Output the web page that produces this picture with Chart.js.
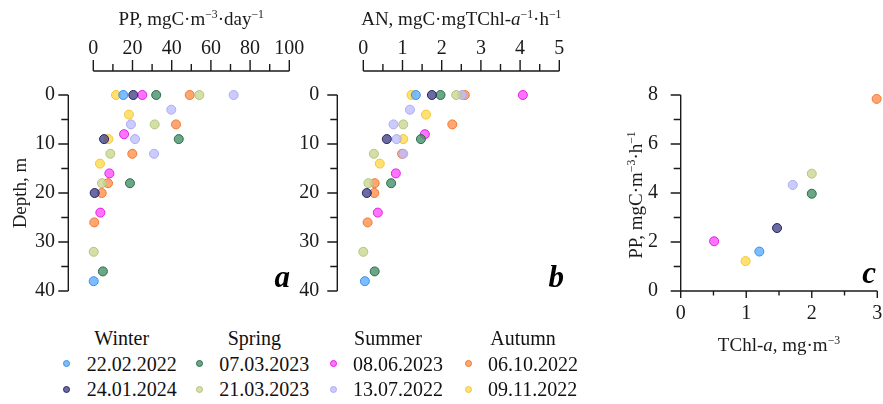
<!DOCTYPE html>
<html>
<head>
<meta charset="utf-8">
<script src="https://cdn.jsdelivr.net/npm/chart.js@4.4.1/dist/chart.umd.min.js"></script>
<style>
  body { margin: 0; background: #fff; }
  #wrap { position: relative; width: 883px; height: 404px; overflow: hidden; font-family: 'Liberation Serif', serif; color: #111; }
  #wrap canvas { position: absolute; top: 0; }
  .leg { position: absolute; font-size: 20px; line-height: 20px; white-space: nowrap; }
  .dot { position: absolute; width: 7px; height: 7px; border-radius: 50%; box-sizing: border-box; border: 1px solid; }
</style>
</head>
<body>
<div id="wrap">
  <canvas id="chartA" style="left:0px" width="310" height="310"></canvas>
  <canvas id="chartB" style="left:295px" width="285" height="310"></canvas>
  <canvas id="chartC" style="left:600px" width="283" height="360"></canvas>
</div>
<script>
// sampling dates, in legend order (two per season)
const seasons = ['Winter', 'Spring', 'Summer', 'Autumn'];
const dates = ['22.02.2022', '24.01.2024', '07.03.2023', '21.03.2023', '08.06.2023', '13.07.2022', '06.10.2022', '09.11.2022'];

// sample depths, m (one row per date)
const depthM = [
  [0, 38],
  [0, 9, 20],
  [0, 9, 18, 36],
  [0, 6, 12, 18, 32],
  [0, 8, 16, 24],
  [0, 3, 6, 9, 12],
  [0, 6, 12, 18, 20, 26],
  [0, 4, 9, 14]
];
// PP, mgC m-3 day-1 at those depths
const ppDay = [
  [15.3, 0.2],
  [20.4, 5.5, 0.7],
  [32.1, 43.6, 18.7, 4.9],
  [54.1, 31.3, 8.7, 4.4, 0.2],
  [25.0, 15.7, 8.2, 3.6],
  [71.6, 39.8, 19.2, 21.3, 31.0],
  [49.2, 42.2, 19.9, 7.5, 4.3, 0.5],
  [11.6, 18.2, 7.7, 3.4]
];
// assimilation number at those depths
const anRate = [
  [1.34, 0.04],
  [1.75, 0.60, 0.09],
  [1.97, 1.47, 0.71, 0.29],
  [2.37, 1.02, 0.27, 0.13, 0.0],
  [4.07, 1.57, 0.83, 0.37],
  [2.52, 1.19, 0.77, 0.85, 1.02],
  [2.59, 2.27, 0.99, 0.29, 0.28, 0.11],
  [1.23, 1.60, 1.02, 0.42]
];
// panel c: TChl-a vs hourly PP
const tchl = [1.20, 1.47, 2.00, 2.00, 0.51, 1.71, 2.99, 0.99];
const ppHour = [1.61, 2.57, 3.97, 4.79, 2.03, 4.33, 7.84, 1.22];

// ticks
const ppTicks = [0, 20, 40, 60, 80, 100];
const ppMinor = [10, 30, 50, 70, 90];
const anTicks = [0, 1, 2, 3, 4, 5];
const anMinor = [0.5, 1.5, 2.5, 3.5, 4.5];
const depthTicks = [0, 10, 20, 30, 40];
const depthMinor = [5, 15, 25, 35];
const tchlTicks = [0, 1, 2, 3];
const tchlMinor = [0.5, 1.5, 2.5];
const ppHourTicks = [0, 2, 4, 6, 8];
const ppHourMinor = [1, 3, 5, 7];

const fills = ['rgba(102,178,255,0.85)', 'rgba(70,70,140,0.8)', 'rgba(70,145,105,0.8)', 'rgba(200,215,145,0.8)',
               'rgba(255,90,255,0.85)', 'rgba(190,190,255,0.8)', 'rgba(255,150,90,0.85)', 'rgba(255,220,90,0.85)'];
const edges = ['#3d8fe6', '#26265e', '#2b6b4a', '#b3c47f', '#e21de2', '#ababf0', '#f0792c', '#f2c534'];

const FONT = "'Liberation Serif', serif";
const INK = '#1a1a1a';
Chart.defaults.font.family = FONT;

// draws "text" made of pieces (italic / superscript), centred on x
function drawRich(ctx, segs, x, y, size, rotate) {
  const fontOf = s => (s.it ? 'italic ' : '') + (s.sup ? size * 0.62 : size) + 'px ' + FONT;
  let total = 0;
  segs.forEach(s => { ctx.font = fontOf(s); total += ctx.measureText(s.t).width; });
  ctx.save();
  ctx.translate(x, y);
  if (rotate) ctx.rotate(-Math.PI / 2);
  ctx.fillStyle = INK;
  ctx.textBaseline = 'alphabetic';
  ctx.textAlign = 'left';
  let cx = -total / 2;
  segs.forEach(s => {
    ctx.font = fontOf(s);
    ctx.fillText(s.t, cx, s.sup ? -size * 0.38 : 0);
    cx += ctx.measureText(s.t).width;
  });
  ctx.restore();
}

// axis lines, major/minor tick marks, titles and panel letters
const decor = {
  chartA: {
    axes: [
      { scale: 'x', off: -24, dir: -1, major: ppTicks, minor: ppMinor, len: [11, 7] },
      { scale: 'y', off: -25, dir: -1, major: depthTicks, minor: depthMinor, len: [10, 7] }
    ],
    titles: [
      { segs: [{t: 'PP, mgC·m'}, {t: '−3', sup: true}, {t: '·day'}, {t: '−1', sup: true}], x: 'mid', y: 25 },
      { segs: [{t: 'Depth, m'}], x: 26, y: 193, rotate: true }
    ],
    letter: { t: 'a', x: 290, y: 287 }
  },
  chartB: {
    axes: [
      { scale: 'x', off: -24, dir: -1, major: anTicks, minor: anMinor, len: [11, 7] },
      { scale: 'y', off: -26, dir: -1, major: depthTicks, minor: depthMinor, len: [10, 7] }
    ],
    titles: [
      { segs: [{t: 'AN, mgC·mgTChl-'}, {t: 'a', it: true}, {t: '−1', sup: true}, {t: '·h'}, {t: '−1', sup: true}], x: 'mid', y: 25 }
    ],
    letter: { t: 'b', x: 269, y: 287 }
  },
  chartC: {
    axes: [
      { scale: 'x', off: 0, dir: 1, major: tchlTicks, minor: tchlMinor, len: [7, 4.5] },
      { scale: 'y', off: 0, dir: -1, major: ppHourTicks, minor: ppHourMinor, len: [10, 7] }
    ],
    titles: [
      { segs: [{t: 'TChl-'}, {t: 'a', it: true}, {t: ', mg·m'}, {t: '−3', sup: true}], x: 'mid', y: 351 },
      { segs: [{t: 'PP, mgC·m'}, {t: '−3', sup: true}, {t: '·h'}, {t: '−1', sup: true}], x: 42, y: 195, rotate: true }
    ],
    letter: { t: 'c', x: 276, y: 283 }
  }
};

const axisPlugin = {
  id: 'axisDecor',
  afterDraw(chart) {
    const d = decor[chart.canvas.id];
    const ctx = chart.ctx;
    const area = chart.chartArea;
    ctx.save();
    ctx.strokeStyle = INK;
    ctx.lineWidth = 1.4;
    d.axes.forEach(a => {
      const sc = chart.scales[a.scale];
      const p0 = sc.getPixelForValue(sc.min), p1 = sc.getPixelForValue(sc.max);
      ctx.beginPath();
      if (a.scale === 'x') {
        const y = (a.dir < 0 ? area.top : area.bottom) + a.off;
        ctx.moveTo(p0, y); ctx.lineTo(p1, y);
        [[a.major, a.len[0]], [a.minor, a.len[1]]].forEach(([vals, len]) => vals.forEach(v => {
          const px = sc.getPixelForValue(v);
          ctx.moveTo(px, y); ctx.lineTo(px, y + a.dir * len);
        }));
      } else {
        const x = area.left + a.off;
        ctx.moveTo(x, p0); ctx.lineTo(x, p1);
        [[a.major, a.len[0]], [a.minor, a.len[1]]].forEach(([vals, len]) => vals.forEach(v => {
          const py = sc.getPixelForValue(v);
          ctx.moveTo(x, py); ctx.lineTo(x + a.dir * len, py);
        }));
      }
      ctx.stroke();
    });
    d.titles.forEach(t => {
      const x = t.x === 'mid' ? (area.left + area.right) / 2 : t.x;
      drawRich(ctx, t.segs, x, t.y, 19, t.rotate);
    });
    ctx.font = 'italic bold 31px ' + FONT;
    ctx.fillStyle = '#000';
    ctx.textAlign = 'right';
    ctx.textBaseline = 'alphabetic';
    ctx.fillText(d.letter.t, d.letter.x, d.letter.y);
    ctx.restore();
  }
};

function makeDatasets(xs, ys) {
  return dates.map((d, i) => ({
    label: d,
    data: (Array.isArray(xs[i]) ? xs[i] : [xs[i]]).map((v, k) => ({
      x: v, y: Array.isArray(ys[i]) ? ys[i][k] : ys[i]
    })),
    backgroundColor: fills[i],
    borderColor: edges[i],
    borderWidth: 1,
    pointRadius: 4.5,
    clip: false
  }));
}

// gap between chart area and tick labels is made with an invisible tick mark,
// ticks.padding would also widen the label overhang of the layout
function axis(opts) {
  return {
    type: 'linear',
    position: opts.position,
    min: opts.ticks[0],
    max: opts.ticks[opts.ticks.length - 1],
    reverse: !!opts.reverse,
    afterBuildTicks: s => { s.ticks = opts.ticks.map(v => ({ value: v })); },
    afterFit: s => { if (opts.width) s.width = opts.width; if (opts.height) s.height = opts.height; },
    grid: { display: true, drawOnChartArea: false, drawTicks: true, tickLength: opts.gap, tickColor: 'rgba(0,0,0,0)' },
    border: { display: false },
    ticks: { font: { family: FONT, size: 20 }, color: INK, padding: 0, autoSkip: false, maxRotation: 0 }
  };
}

function makeChart(id, datasets, pad, xAxis, yAxis) {
  return new Chart(document.getElementById(id), {
    type: 'scatter',
    data: { datasets: datasets },
    options: {
      responsive: false,
      animation: false,
      layout: { padding: pad },
      plugins: { legend: { display: false }, tooltip: { enabled: false } },
      scales: { x: axis(xAxis), y: axis(yAxis) }
    },
    plugins: [axisPlugin]
  });
}

makeChart('chartA', makeDatasets(ppDay, depthM),
  { left: 0, top: 0, right: 20.7, bottom: 19 },
  { position: 'top', ticks: ppTicks, height: 95, gap: 34.7 },
  { position: 'left', ticks: depthTicks, reverse: true, width: 93.3, gap: 38.3 });

makeChart('chartB', makeDatasets(anRate, depthM),
  { left: 0, top: 0, right: 20.7, bottom: 19 },
  { position: 'top', ticks: anTicks, height: 95, gap: 34.7 },
  { position: 'left', ticks: depthTicks, reverse: true, width: 68.3, gap: 44 });

makeChart('chartC', makeDatasets(tchl, ppHour),
  { left: 0, top: 95, right: 5.7, bottom: 0 },
  { position: 'bottom', ticks: tchlTicks, height: 69, gap: 11 },
  { position: 'left', ticks: ppHourTicks, width: 80.7, gap: 22.7 });

// legend: season headers over two dates each
const wrap = document.getElementById('wrap');
const colX = [66.7, 199.3, 333, 468];
const rowY = [363.3, 389.3];
const rowTop = [354, 379];
seasons.forEach((s, c) => {
  const head = document.createElement('div');
  head.className = 'leg';
  head.textContent = s;
  head.style.left = (colX[c] + 55) + 'px';
  head.style.top = '328px';
  head.style.transform = 'translateX(-50%)';
  wrap.appendChild(head);
  [0, 1].forEach(r => {
    const i = c * 2 + r;
    const dot = document.createElement('div');
    dot.className = 'dot';
    dot.style.left = (colX[c] - 3.5) + 'px';
    dot.style.top = (rowY[r] - 3.5) + 'px';
    dot.style.background = fills[i];
    dot.style.borderColor = edges[i];
    wrap.appendChild(dot);
    const txt = document.createElement('div');
    txt.className = 'leg';
    txt.textContent = dates[i];
    txt.style.left = (colX[c] + 20) + 'px';
    txt.style.top = rowTop[r] + 'px';
    wrap.appendChild(txt);
  });
});
</script>
</body>
</html>
